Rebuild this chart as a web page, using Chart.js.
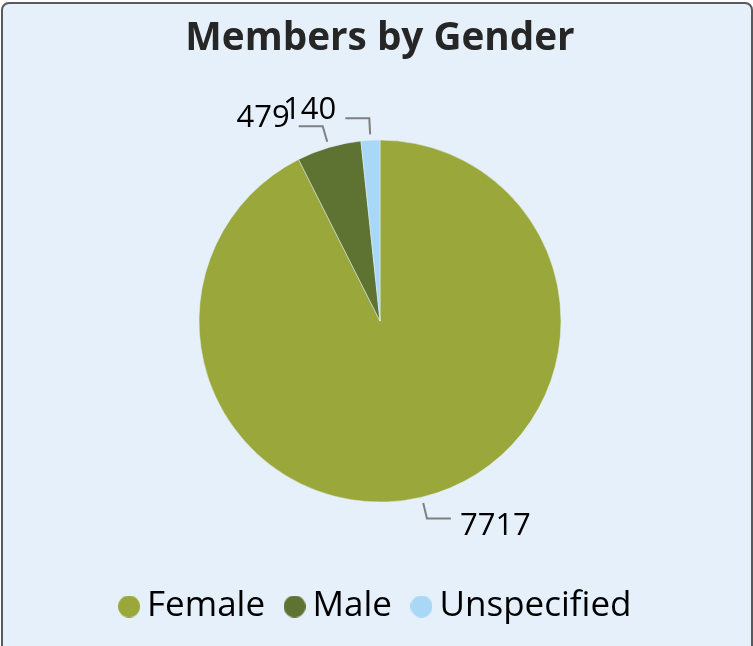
<!DOCTYPE html>
<html>
<head>
<meta charset="utf-8">
<script src="https://cdn.jsdelivr.net/npm/chart.js@4.4.0/dist/chart.umd.min.js"></script>
<style>
  html, body { margin: 0; padding: 0; background: #ffffff; overflow: hidden; }
  .frame {
    position: absolute; left: 1px; top: 2px;
    width: 748px; height: 680px;
    border: 2px solid #595959; border-radius: 8px;
    background: #e6f0fa;
  }
  #chart { position: absolute; left: 0; top: 0; }
</style>
</head>
<body>
<div class="frame"></div>
<canvas id="chart" width="753" height="660"></canvas>
<script>
const categories = ['Female', 'Male', 'Unspecified'];
const members = [7717, 479, 140];
const sliceColors = ['#9aa83b', '#5e7232', '#a8d8f5'];

// small round legend markers, one per colour
function dot(color) {
  const c = document.createElement('canvas');
  c.width = 22; c.height = 22;
  const g = c.getContext('2d');
  g.fillStyle = color;
  g.beginPath();
  g.arc(11, 11, 11, 0, Math.PI * 2);
  g.fill();
  return c;
}
const dots = sliceColors.map(dot);

// value labels outside the pie with elbow leader lines
const leaderLabels = {
  id: 'leaderLabels',
  afterDatasetsDraw(chart) {
    const ctx = chart.ctx;
    const meta = chart.getDatasetMeta(0);
    ctx.save();
    ctx.font = '31px "Open Sans"';
    ctx.textBaseline = 'middle';
    ctx.strokeStyle = '#7f7f7f';
    ctx.lineWidth = 2;
    ctx.fillStyle = '#000000';
    meta.data.forEach((arc, i) => {
      const p = arc.getProps(['x', 'y', 'startAngle', 'endAngle', 'outerRadius'], true);
      const mid = (p.startAngle + p.endAngle) / 2;
      const cos = Math.cos(mid), sin = Math.sin(mid);
      const x1 = p.x + cos * (p.outerRadius + 6), y1 = p.y + sin * (p.outerRadius + 6);
      const x2 = p.x + cos * (p.outerRadius + 22), y2 = p.y + sin * (p.outerRadius + 22);
      const dir = cos >= 0 ? 1 : -1;
      const x3 = x2 + dir * 24;
      ctx.beginPath();
      ctx.moveTo(x1, y1);
      ctx.lineTo(x2, y2);
      ctx.lineTo(x3, y2);
      ctx.stroke();
      ctx.textAlign = dir > 0 ? 'left' : 'right';
      ctx.fillText(String(members[i]), x3 + dir * 9, y2 + (sin > 0 ? 8 : -8));
    });
    ctx.restore();
  }
};

new Chart(document.getElementById('chart'), {
  type: 'pie',
  data: {
    labels: categories,
    datasets: [{
      data: members,
      backgroundColor: sliceColors,
      borderColor: '#e6f0fa',
      borderWidth: 0.5,
      radius: 181
    }]
  },
  options: {
    responsive: false,
    animation: false,
    layout: { padding: { left: 14, right: 7, top: 0, bottom: 26 } },
    plugins: {
      title: {
        display: true,
        text: 'Members by Gender',
        color: '#262626',
        font: { family: 'Open Sans', size: 38.7, weight: 'bold' },
        padding: { top: 16, bottom: 19.7 }
      },
      legend: {
        position: 'bottom',
        labels: {
          usePointStyle: true,
          boxWidth: 1,
          boxHeight: 1,
          padding: 29,
          color: '#000000',
          font: { family: 'Open Sans', size: 35 },
          generateLabels(chart) {
            const items = Chart.overrides.pie.plugins.legend.labels.generateLabels(chart);
            items.forEach((it, i) => { it.pointStyle = dots[i]; });
            return items;
          }
        }
      },
      tooltip: { enabled: false }
    }
  },
  plugins: [leaderLabels]
});
</script>
</body>
</html>
